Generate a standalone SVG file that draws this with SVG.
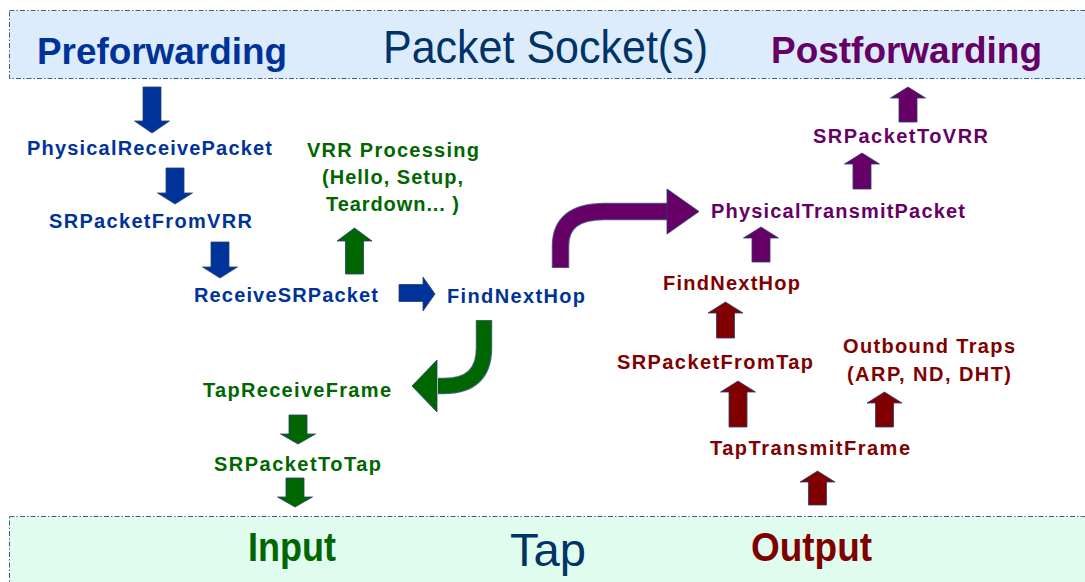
<svg xmlns="http://www.w3.org/2000/svg" width="1085" height="582" viewBox="0 0 1085 582">
  <style>
    .band { stroke: #3f5f86; stroke-width: 1; stroke-dasharray: 5 2 1.5 2; }
    .title { font-family: "Liberation Sans", Arial, sans-serif; font-weight: bold; font-size: 36px; }
    .tall { font-size: 40px; }
    .plain { font-family: "Liberation Sans", Arial, sans-serif; font-size: 47px; fill: #003366; }
    .lbl { font-family: "Liberation Sans", Arial, sans-serif; font-weight: bold; font-size: 20px; }
    .blue { fill: #003399; }
    .green { fill: #006600; }
    .purple { fill: #660066; }
    .red { fill: #800000; }
    .arrow { stroke: #26406e; stroke-width: 1; stroke-opacity: 0.8; stroke-linejoin: miter; }
    .bend-edge { fill: none; stroke: #26406e; stroke-opacity: 0.8; stroke-linecap: butt; }
    .bend { fill: none; stroke-linecap: butt; }
  </style>

  <!-- upper band: packet sockets -->
  <g id="packet-socket">
    <rect class="band" x="9.5" y="10.5" width="1090" height="68" fill="#ddecfc"/>
    <text class="title blue" x="37" y="64" textLength="250" lengthAdjust="spacingAndGlyphs">Preforwarding</text>
    <text class="plain" x="383" y="63" textLength="325" lengthAdjust="spacingAndGlyphs">Packet Socket(s)</text>
    <text class="title purple" x="771" y="63" textLength="271" lengthAdjust="spacingAndGlyphs">Postforwarding</text>
  </g>

  <!-- lower band: tap device -->
  <g id="tap">
    <rect class="band" x="9.5" y="516.5" width="1090" height="80" fill="#e0fcee"/>
    <text class="title tall green" x="248" y="561" textLength="88" lengthAdjust="spacingAndGlyphs">Input</text>
    <text class="plain" x="510" y="566" textLength="76" lengthAdjust="spacingAndGlyphs">Tap</text>
    <text class="title tall red" x="751" y="561" textLength="121" lengthAdjust="spacingAndGlyphs">Output</text>
  </g>

  <!-- receive path -->
  <g id="physical-receive-packet">
    <text class="lbl blue" x="27" y="155" textLength="245">PhysicalReceivePacket</text>
  </g>
  <g id="sr-packet-from-vrr">
    <text class="lbl blue" x="49" y="228" textLength="203">SRPacketFromVRR</text>
  </g>
  <g id="receive-sr-packet">
    <text class="lbl blue" x="194" y="302" textLength="184">ReceiveSRPacket</text>
  </g>
  <g id="vrr-processing">
    <text class="lbl green" x="307" y="157" textLength="172">VRR Processing</text>
    <text class="lbl green" x="322" y="184" textLength="141">(Hello, Setup,</text>
    <text class="lbl green" x="326" y="211" textLength="133">Teardown... )</text>
  </g>
  <g id="find-next-hop-in">
    <text class="lbl blue" x="447" y="303" textLength="138">FindNextHop</text>
  </g>
  <g id="tap-receive-frame">
    <text class="lbl green" x="203" y="397" textLength="188">TapReceiveFrame</text>
  </g>
  <g id="sr-packet-to-tap">
    <text class="lbl green" x="214" y="471" textLength="167">SRPacketToTap</text>
  </g>

  <!-- transmit path -->
  <g id="sr-packet-to-vrr">
    <text class="lbl purple" x="813" y="143" textLength="175">SRPacketToVRR</text>
  </g>
  <g id="physical-transmit-packet">
    <text class="lbl purple" x="711" y="218" textLength="254">PhysicalTransmitPacket</text>
  </g>
  <g id="find-next-hop-out">
    <text class="lbl red" x="663" y="290" textLength="137">FindNextHop</text>
  </g>
  <g id="sr-packet-from-tap">
    <text class="lbl red" x="617" y="369" textLength="196">SRPacketFromTap</text>
  </g>
  <g id="outbound-traps">
    <text class="lbl red" x="843" y="353" textLength="172">Outbound Traps</text>
    <text class="lbl red" x="847" y="381" textLength="164">(ARP, ND, DHT)</text>
  </g>
  <g id="tap-transmit-frame">
    <text class="lbl red" x="710" y="455" textLength="200">TapTransmitFrame</text>
  </g>

  <!-- block arrows between stages -->
  <g id="connectors">
    <!-- receive side, downward -->
    <polygon class="arrow blue" points="143,87 161,87 161,121 169.5,121 152,133 134.5,121 143,121"/>
    <polygon class="arrow blue" points="166,168 184,168 184,193 192.5,193 175,204 157.5,193 166,193"/>
    <polygon class="arrow blue" points="211,242 229,242 229,267 237.5,267 220,278 202.5,267 211,267"/>
    <!-- ReceiveSRPacket to FindNextHop -->
    <polygon class="arrow blue" points="399,284.5 423,284.5 423,277 435,294 423,311 423,301.5 399,301.5"/>
    <!-- ReceiveSRPacket up to VRR processing -->
    <polygon class="arrow green" points="345.5,274 363.5,274 363.5,241 372,241 354.5,228 337,241 345.5,241"/>
    <!-- FindNextHop bend down to TapReceiveFrame -->
    <path class="bend-edge" stroke-width="16.5" d="M484,320 V348 Q484,386 444,386 H438"/>
    <path class="bend" stroke="#006600" stroke-width="14.5" d="M484,320.8 V348 Q484,386 444,386 H438"/>
    <polygon class="arrow green" points="437,360 412,386 437,412"/>
    <polygon class="arrow green" points="289,415 307,415 307,434 315.5,434 298,444 280.5,434 289,434"/>
    <polygon class="arrow green" points="286,478 304,478 304,497 312.5,497 295,507 277.5,497 286,497"/>

    <!-- FindNextHop bend up to PhysicalTransmitPacket -->
    <path class="bend-edge" stroke-width="17.5" d="M560.5,268 V246 Q560.5,211.5 604,211.5 H668"/>
    <path class="bend" stroke="#660066" stroke-width="15.5" d="M560.5,267.2 V246 Q560.5,211.5 604,211.5 H668"/>
    <polygon class="arrow purple" points="667,189 699,211.5 667,234"/>
    <!-- transmit side, upward -->
    <polygon class="arrow purple" points="752,262 770,262 770,238 778.5,238 761,227 743.5,238 752,238"/>
    <polygon class="arrow purple" points="853,189 871,189 871,164 879.5,164 862,153 844.5,164 853,164"/>
    <polygon class="arrow purple" points="899,122 917,122 917,98 925.5,98 908,87 890.5,98 899,98"/>
    <polygon class="arrow red" points="716.5,338 734.5,338 734.5,313 743,313 725.5,302 708,313 716.5,313"/>
    <polygon class="arrow red" points="729,427 747,427 747,392 755.5,392 738,381 720.5,392 729,392"/>
    <polygon class="arrow red" points="875.5,427 893.5,427 893.5,403 902,403 884.5,392 867,403 875.5,403"/>
    <polygon class="arrow red" points="808.5,505 826.5,505 826.5,482 835,482 817.5,471 800,482 808.5,482"/>
  </g>
</svg>
